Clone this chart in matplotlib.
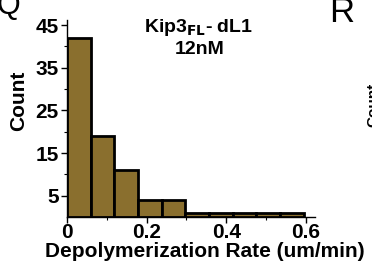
import numpy as np
import matplotlib
matplotlib.use("Agg")
import matplotlib.pyplot as plt
from matplotlib.ticker import FixedLocator

plt.rcParams['font.family'] = ['Liberation Sans', 'DejaVu Sans']

bin_edges = [0.0, 0.0595, 0.119, 0.1785, 0.238, 0.2975, 0.357, 0.4165, 0.476, 0.5355, 0.595]
counts = [42, 19, 11, 4, 4, 1, 1, 1, 1, 1]
yticks = [5, 15, 25, 35, 45]
xticks = [0, 0.2, 0.4, 0.6]

fig = plt.figure(figsize=(3.72, 2.65), dpi=100)
ax = fig.add_axes([67/372, 1-217/265, (315-67)/372, (217-20)/265])

lefts = np.array(bin_edges[:-1])
widths = np.diff(bin_edges)
ax.bar(lefts, counts, width=widths, align='edge', color='#8A6F2E',
       edgecolor='black', linewidth=2.0, zorder=2)

ax.set_xlim(0, 0.623)
ax.set_ylim(0, 46.2)
ax.set_yticks(yticks)
ax.set_xticks(xticks)
ax.set_xticklabels(['0', '0.2', '0.4', '0.6'])
ax.yaxis.set_minor_locator(FixedLocator([10, 20, 30, 40]))
ax.xaxis.set_minor_locator(FixedLocator([0.1, 0.3, 0.5]))
for s in ['top', 'right']:
    ax.spines[s].set_visible(False)
for s in ['left', 'bottom']:
    ax.spines[s].set_linewidth(1.0)
ax.tick_params(axis='both', which='major', direction='out', length=4, width=1,
               labelsize=15, pad=0)
ax.tick_params(axis='y', which='major', pad=2)
ax.tick_params(axis='both', which='minor', direction='out', length=2.5, width=0.8)
for lab in ax.get_xticklabels() + ax.get_yticklabels():
    lab.set_fontweight('bold')

fig.text(205/372, 1-257/265, 'Depolymerization Rate (um/min)', ha='center', va='baseline',
         fontsize=15, fontweight='bold')
fig.text(19/372, 1-101/265, 'Count', ha='center', va='center', fontsize=15,
         fontweight='bold', rotation=90)

fig.text(199/372, 1-27/265, r'Kip3$_{\mathbf{FL}}$- dL1', ha='center', va='center',
         fontsize=14, fontweight='bold')
fig.text(200/372, 1-49/265, '12nM', ha='center', va='center',
         fontsize=14, fontweight='bold')

fig.text(-4/372, 1-6/265, 'Q', ha='left', va='center', fontsize=22)
fig.text(329/372, 1-13/265, 'R', ha='left', va='center', fontsize=25)
fig.text(366/372, 1-105/265, 'Count', ha='left', va='center', fontsize=11,
         fontweight='bold', rotation=90)

fig.savefig('out.png', dpi=100)
